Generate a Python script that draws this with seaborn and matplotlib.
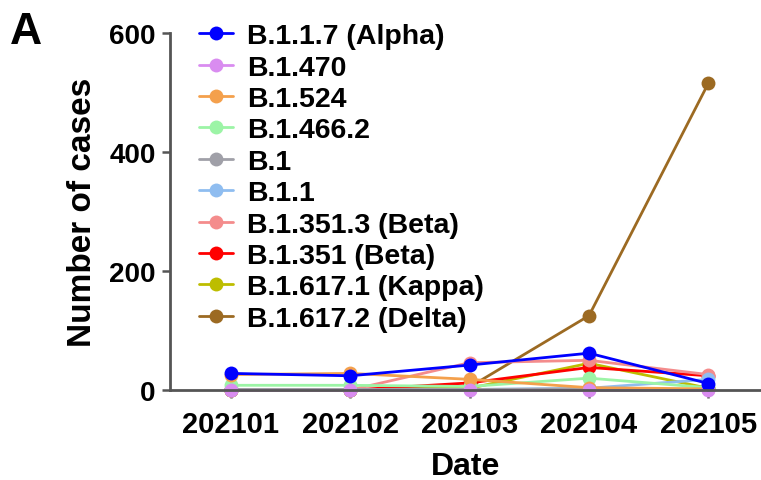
import matplotlib
matplotlib.use('Agg')
import matplotlib.pyplot as plt
import seaborn as sns
import pandas as pd

# monthly counts per variant
months = ['202101', '202102', '202103', '202104', '202105']
variants = ['B.1.1.7 (Alpha)', 'B.1.470', 'B.1.524', 'B.1.466.2', 'B.1', 'B.1.1',
            'B.1.351.3 (Beta)', 'B.1.351 (Beta)', 'B.1.617.1 (Kappa)', 'B.1.617.2 (Delta)']
alpha = [28, 24, 42, 62, 11]
b1470 = [0, 0, 0, 0, 0]
b1524 = [26, 28, 18, 4, 2]
b14662 = [8, 8, 6, 20, 4]
b1 = [1, 1, 1, 2, 1]
b11 = [0, 0, 1, 3, 18]
b13513 = [0, 0, 46, 50, 26]
b1351 = [0, 0, 12, 38, 24]
kappa = [0, 0, 3, 45, 3]
delta = [0, 0, 5, 125, 516]
colors = ['#0000FF', '#D98CF0', '#F4A04C', '#9CF4A6', '#A0A0A8', '#8FBDF0',
          '#F48C8C', '#FF0000', '#BDBD00', '#9C6A22']

series = [alpha, b1470, b1524, b14662, b1, b11, b13513, b1351, kappa, delta]
rows = []
for name, vals in zip(variants, series):
    for i, v in enumerate(vals):
        rows.append({'variant': name, 'pos': i, 'cases': v})
df = pd.DataFrame(rows)

sns.set_style('ticks')
plt.rcParams['font.family'] = ['Liberation Sans', 'DejaVu Sans']
plt.rcParams['font.weight'] = 'bold'
plt.rcParams['text.color'] = 'black'
plt.rcParams['axes.labelcolor'] = 'black'
plt.rcParams['xtick.labelcolor'] = 'black'
plt.rcParams['ytick.labelcolor'] = 'black'

fig = plt.figure(figsize=(7.61, 4.81), dpi=100)
ax = fig.add_axes([0.223, 0.187, 0.777, 0.742])

# draw last variant first so Alpha ends up on top
handles = {}
for name, col in reversed(list(zip(variants, colors))):
    sub = df[df['variant'] == name]
    sns.lineplot(data=sub, x='pos', y='cases', color=col, marker='o', markersize=10,
                 markeredgewidth=0, linewidth=2, ax=ax, legend=False, clip_on=False)
    handles[name] = ax.lines[-1]

ax.set_xlim(-0.51, 4.44)
ax.set_ylim(0, 600)
ax.set_xticks(range(len(months)))
ax.set_xticklabels(months)
ax.set_yticks([0, 200, 400, 600])
ax.tick_params(axis='both', length=6, width=1.8, color='#555555')
ax.tick_params(axis='x', labelsize=21, pad=8.5)
ax.tick_params(axis='y', labelsize=20, pad=4)
for lab in ax.get_xticklabels() + ax.get_yticklabels():
    lab.set_fontweight('bold')
for sp in ['top', 'right']:
    ax.spines[sp].set_visible(False)
for sp in ['left', 'bottom']:
    ax.spines[sp].set_linewidth(2)
    ax.spines[sp].set_color('#555555')

ax.set_xlabel('Date', fontsize=23, fontweight='bold', labelpad=9)
ax.set_ylabel('Number of cases', fontsize=24, fontweight='bold', labelpad=8)

leg = ax.legend([handles[n] for n in variants], variants, loc='upper left',
                bbox_to_anchor=(0.03, 1.06), frameon=False,
                prop={'weight': 'bold', 'size': 20.5}, handlelength=1.2,
                handletextpad=0.5, labelspacing=0.19, borderaxespad=0)

fig.text(0.013, 0.975, 'A', fontsize=32, fontweight='bold', va='top', ha='left')

fig.savefig('out.png', dpi=100)
